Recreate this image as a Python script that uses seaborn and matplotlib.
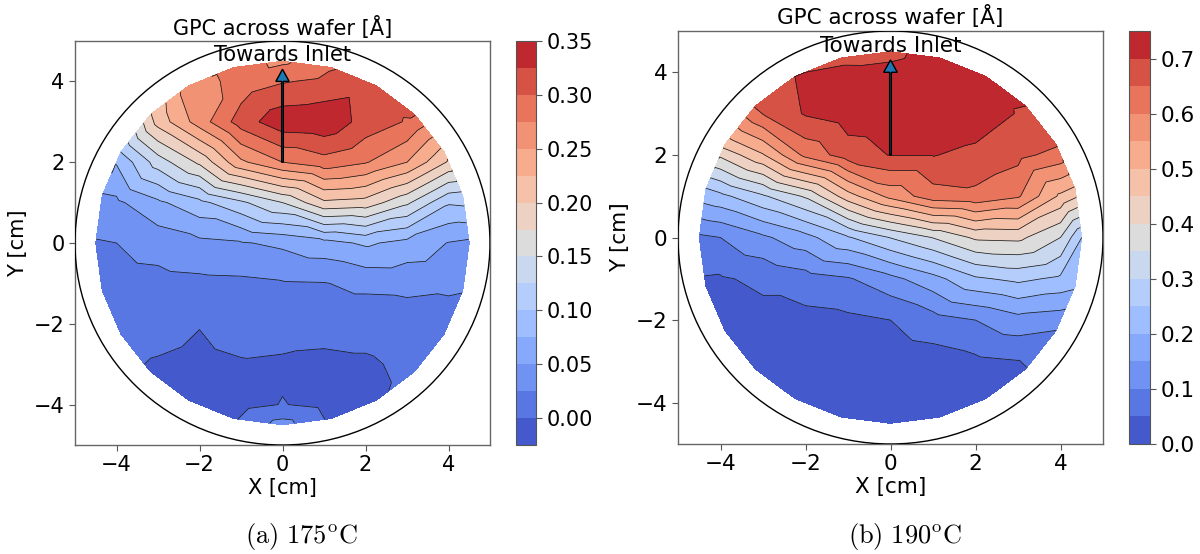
import numpy as np
import matplotlib
matplotlib.use("Agg")
import matplotlib.pyplot as plt
import matplotlib.tri as mtri
import seaborn as sns

sns.set_style("white")
plt.rcParams["font.family"] = ["DejaVu Sans"]
plt.rcParams["mathtext.fontset"] = "cm"
for key in ["text.color", "axes.labelcolor", "xtick.color", "ytick.color"]:
    plt.rcParams[key] = "black"

# ---------------- data ----------------
# measurement grid (rows of y, x positions per row), values in Angstrom/cycle
row_y = [4, 3, 2, 1, 0, -1, -2, -3, -4]
row_x = [
    [-2, -1, 0, 1, 2],
    [-3, -2, -1, 0, 1, 2, 3],
    [-4, -3, -2, -1, 0, 1, 2, 3, 4],
    [-4, -3, -2, -1, 0, 1, 2, 3, 4],
    [-4, -3, -2, -1, 0, 1, 2, 3, 4],
    [-4, -3, -2, -1, 0, 1, 2, 3, 4],
    [-4, -3, -2, -1, 0, 1, 2, 3, 4],
    [-3, -2, -1, 0, 1, 2, 3],
    [-2, -1, 0, 1, 2],
]
# edge ring of measurement points (r = 4.5 cm, every 15 deg starting at +x)
ring_angle_deg = [0, 15, 30, 45, 60, 75, 90, 105, 120, 135, 150, 165,
                  180, 195, 210, 225, 240, 255, 270, 285, 300, 315, 330, 345]
ring_radius = 4.5

gpc_175_rows = [
    [0.265, 0.285, 0.298, 0.305, 0.312],
    [0.210, 0.262, 0.312, 0.342, 0.345, 0.315, 0.298],
    [0.077, 0.137, 0.180, 0.245, 0.275, 0.290, 0.277, 0.250, 0.197],
    [0.045, 0.070, 0.093, 0.120, 0.150, 0.195, 0.190, 0.155, 0.103],
    [0.025, 0.035, 0.044, 0.048, 0.055, 0.066, 0.079, 0.067, 0.049],
    [0.015, 0.017, 0.019, 0.020, 0.023, 0.024, 0.031, 0.032, 0.0295],
    [0.009, 0.008, 0.001, 0.010, 0.012, 0.008, 0.008, 0.012, 0.015],
    [-0.002, -0.006, -0.002, -0.004, -0.005, -0.003, 0.004],
    [-0.012, -0.008, 0.001, -0.006, -0.006],
]
gpc_175_ring = [0.045, 0.115, 0.216, 0.302, 0.315, 0.298, 0.270, 0.285,
                0.265, 0.198, 0.100, 0.048, 0.023, 0.015, 0.008, -0.002,
                -0.012, -0.003, 0.035, -0.005, -0.004, 0.008, 0.015, 0.026]

gpc_190_rows = [
    [0.700, 0.705, 0.710, 0.720, 0.715],
    [0.652, 0.705, 0.725, 0.730, 0.740, 0.730, 0.697],
    [0.410, 0.496, 0.614, 0.677, 0.702, 0.702, 0.688, 0.665, 0.630],
    [0.236, 0.293, 0.357, 0.478, 0.565, 0.628, 0.637, 0.607, 0.490],
    [0.100, 0.141, 0.183, 0.245, 0.302, 0.352, 0.409, 0.413, 0.350],
    [0.045, 0.060, 0.078, 0.095, 0.135, 0.182, 0.242, 0.262, 0.240],
    [0.030, 0.035, 0.035, 0.040, 0.050, 0.079, 0.100, 0.132, 0.122],
    [0.025, 0.020, 0.020, 0.020, 0.028, 0.040, 0.048],
    [0.012, 0.012, 0.010, 0.015, 0.015],
]
gpc_190_ring = [0.250, 0.490, 0.655, 0.700, 0.720, 0.720, 0.690, 0.695,
                0.700, 0.655, 0.470, 0.245, 0.090, 0.040, 0.030, 0.025,
                0.020, 0.015, 0.015, 0.020, 0.030, 0.048, 0.100, 0.210]

levels_175 = np.linspace(-0.025, 0.35, 16)
levels_190 = np.linspace(0.0, 0.75, 16)
cbar_ticks_175 = [0.00, 0.05, 0.10, 0.15, 0.20, 0.25, 0.30, 0.35]
cbar_ticks_190 = [0.0, 0.1, 0.2, 0.3, 0.4, 0.5, 0.6, 0.7]
axis_ticks = [-4, -2, 0, 2, 4]
captions = [r"$\mathrm{(a)\ 175^{o}C}$", r"$\mathrm{(b)\ 190^{o}C}$"]

# ---------------- figure ----------------
fig = plt.figure(figsize=(12, 5.54), dpi=100)
W, H = 1200.0, 554.0


def box(l, t, r, b):
    return [l / W, 1 - b / H, (r - l) / W, (b - t) / H]


def collect(rows, ring):
    xs, ys, zs = [], [], []
    for yv, xr, zr in zip(row_y, row_x, rows):
        for xv, zv in zip(xr, zr):
            xs.append(xv)
            ys.append(yv)
            zs.append(zv)
    ang = np.deg2rad(ring_angle_deg)
    xs += list(ring_radius * np.cos(ang))
    ys += list(ring_radius * np.sin(ang))
    zs += list(ring)
    return np.array(xs, float), np.array(ys, float), np.array(zs, float)


def draw(ax, cax, rows, ring, levels, cticks, fs, tpad):
    x, y, z = collect(rows, ring)
    tri = mtri.Triangulation(x, y)
    cs = ax.tricontourf(tri, z, levels=levels, cmap="coolwarm")
    ax.tricontour(tri, z, levels=levels, colors="#1a1a1a", linewidths=0.55)
    ax.add_patch(plt.Circle((0, 0), 5, fill=False, color="k", lw=1.0, zorder=4))
    ax.arrow(0, 2, 0, 2.0, width=0.04, head_width=0.32, head_length=0.3,
             fc="#1f77b4", ec="k", lw=1.0, zorder=6)
    ax.text(0, 4.5, "Towards Inlet", ha="center", va="baseline", fontsize=fs,
            color="black", zorder=7)
    ax.set_xlim(-5, 5)
    ax.set_ylim(-5, 5)
    ax.set_xticks(axis_ticks)
    ax.set_yticks(axis_ticks)
    ax.tick_params(labelsize=fs, length=4, width=0.8, color="#555555",
                   labelcolor="black", direction="out", bottom=True, left=True)
    ax.set_xlabel("X [cm]", fontsize=fs, labelpad=2, color="black")
    ax.set_ylabel("Y [cm]", fontsize=fs, labelpad=4, color="black")
    ax.set_title("GPC across wafer [Å]", fontsize=fs, pad=tpad, color="black")
    for s in ax.spines.values():
        s.set_color("#666666")
        s.set_linewidth(1.0)
    cb = fig.colorbar(cs, cax=cax, ticks=cticks)
    cb.ax.tick_params(labelsize=fs, length=4, width=0.8, color="#555555",
                      labelcolor="black")
    cb.outline.set_edgecolor("#555555")
    cb.outline.set_linewidth(0.8)
    return cs


ax_a = fig.add_axes(box(75, 41, 490, 445))
cax_a = fig.add_axes(box(516, 41, 536, 445))
ax_b = fig.add_axes(box(678, 31, 1103, 444))
cax_b = fig.add_axes(box(1129, 31, 1150, 444))

draw(ax_a, cax_a, gpc_175_rows, gpc_175_ring, levels_175, cbar_ticks_175, 15, 4)
draw(ax_b, cax_b, gpc_190_rows, gpc_190_ring, levels_190, cbar_ticks_190, 15.5, 5)

fig.text(301 / W, 1 - 537 / H, captions[0], ha="center", va="center",
         fontsize=19, color="black")
fig.text(905 / W, 1 - 537 / H, captions[1], ha="center", va="center",
         fontsize=19, color="black")

fig.savefig("out.png", dpi=100)
